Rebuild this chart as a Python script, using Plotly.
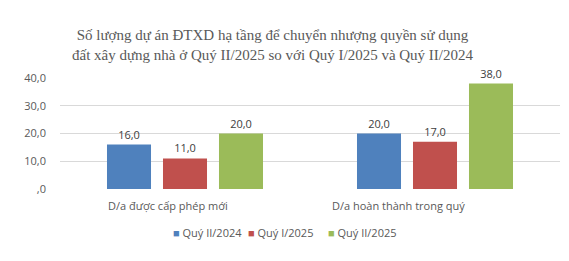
import plotly.graph_objects as go

categories = ["D/a được cấp phép mới", "D/a hoàn thành trong quý"]
series_names = ["Quý II/2024", "Quý I/2025", "Quý II/2025"]
values_q2_2024 = [16.0, 20.0]
values_q1_2025 = [11.0, 17.0]
values_q2_2025 = [20.0, 38.0]
tick_vals = [0, 10, 20, 30, 40]
tick_text = [",0", "10,0", "20,0", "30,0", "40,0"]
colors = ["#4f81bd", "#c0504d", "#9bbb59"]

FONT = "Open Sans, Liberation Sans"
fig = go.Figure()
for name, vals, col in zip(series_names, [values_q2_2024, values_q1_2025, values_q2_2025], colors):
    fig.add_trace(go.Bar(
        x=categories, y=vals, name=name, marker_color=col, marker_line_width=0,
        text=[f"{v:.1f}".replace(".", ",") for v in vals], textposition="outside",
        textfont=dict(family=FONT, size=11, color="#404040"),
        cliponaxis=False, showlegend=False,
    ))

annotations = [dict(
    text="Số lượng dự án ĐTXD hạ tầng để chuyển nhượng quyền sử dụng<br>đất xây dựng nhà ở Quý II/2025 so với Quý I/2025 và Quý II/2024",
    xref="paper", yref="paper", x=(273 - 60) / 500, y=1.0, yshift=33,
    xanchor="center", yanchor="middle", showarrow=False,
    font=dict(family="Liberation Serif, Times New Roman", size=15, color="#595959"),
)]
# category labels
for cat, xs in zip(categories, [-17, -37]):
    annotations.append(dict(
        text=cat, x=cat, xref="x", y=0, yref="paper", yshift=-16, xshift=xs,
        xanchor="center", yanchor="middle", showarrow=False,
        font=dict(family=FONT, size=11, color="#595959"),
    ))
# custom legend
legend_x = [171, 246, 326]
for name, col, lx in zip(series_names, colors, legend_x):
    annotations.append(dict(
        text=f"<span style='color:{col}'>■</span> {name}",
        xref="paper", yref="paper", x=(lx - 60) / 500, y=0, yshift=-43,
        xanchor="left", yanchor="middle", showarrow=False,
        font=dict(family=FONT, size=11, color="#595959"),
    ))

fig.update_layout(
    width=569, height=261,
    margin=dict(l=60, r=9, t=78, b=72),
    paper_bgcolor="white", plot_bgcolor="white",
    barmode="group", bargap=0.328, bargroupgap=0.214,
    showlegend=False,
    annotations=annotations,
    xaxis=dict(showline=False, ticks="", showticklabels=False),
    yaxis=dict(range=[0, 40], tickvals=tick_vals, ticktext=tick_text,
               showgrid=True, gridcolor="#d9d9d9", gridwidth=1, zeroline=False,
               showline=False, ticks="", ticklen=0, ticklabelstandoff=13,
               tickfont=dict(family=FONT, size=11, color="#595959")),
)
fig.write_html("out.html")
